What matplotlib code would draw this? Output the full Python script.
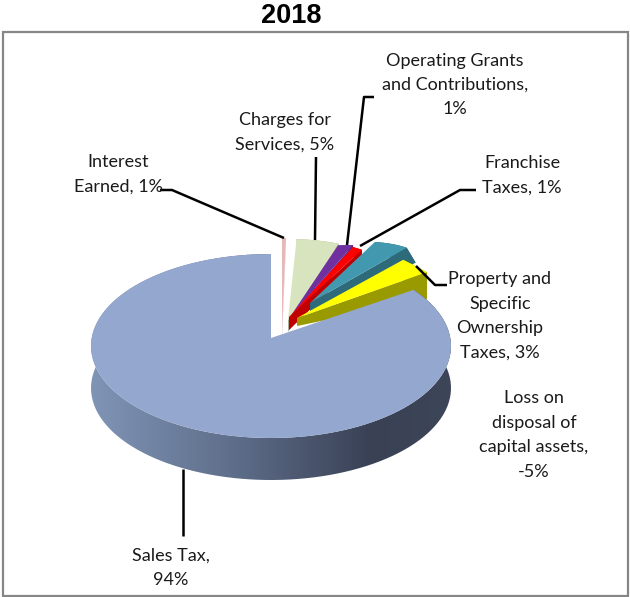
import numpy as np
import matplotlib
matplotlib.use("Agg")
import matplotlib.pyplot as plt
from matplotlib.colors import LinearSegmentedColormap
from matplotlib.patches import Polygon

# chart data, clockwise from 12 o'clock. Excel draws the negative slice by its size
slice_names = ["Interest Earned", "Charges for Services", "Operating Grants and Contributions",
               "Franchise Taxes", "Loss on disposal of capital assets",
               "Property and Specific Ownership Taxes", "Sales Tax"]
slice_values = [1, 5, 1, 1, -5, 3, 94]
title = "2018"

# label text, one per slice, same order
slice_labels = ["Interest\nEarned, 1%", "Charges for\nServices, 5%", "Operating Grants\nand Contributions,\n1%",
                "Franchise\nTaxes, 1%", "Loss on\ndisposal of\ncapital assets,\n-5%",
                "Property and\nSpecific\nOwnership\nTaxes, 3%", "Sales Tax,\n94%"]

# look of the slices (pixels): apex x/y, radius x/y at start and end of the arc, depth at apex and rim
top_colors = ["#e6b9b8", "#d7e4bd", "#7030a0", "#ff0000", "#4198af", "#ffff00", "#94a7cf"]
side_colors = ["#c9a09f", "#a8b096", "#5a2a80", "#c00000", "#2d6a7a", "#999900", "#5a6a85"]
apex_xy = [(282, 333), (288, 320), (290, 317), (289, 317), (310, 303), (297, 318), (271, 346)]
radius_x = [(70, 70), (150, 150), (143, 162), (164, 165), (147, 143), (157, 164), (180, 180)]
radius_y = [(95, 95), (81, 81), (76, 78), (76, 75), (68, 75), (79, 75), (92, 92)]
depths = [(4, 4), (12, 6), (12, 6), (13, 10), (10, 15), (8, 27), (42, 42)]
rim_shift = [0, 0, 0, 0, 9, 0, 0]

label_pos = [(118, 174), (285, 132), (455, 85), (522, 175), (534, 435), (500, 316), (171, 568)]
leaders = [[(160, 190), (172, 190), (284, 238)], [(316, 157), (315, 240)],
           [(374, 97), (364, 97), (347, 245)], [(476, 190), (460, 190), (360, 246)],
           [(447, 285), (435, 285), (416, 266)], [(183, 469), (183, 536)]]

fig = plt.figure(figsize=(6.3, 5.97), dpi=100)
ax = fig.add_axes([0, 0, 1, 1])
ax.set_xlim(0, 630)
ax.set_ylim(597, 0)
ax.axis("off")


def rim(i, a0, a1):
    t = np.radians(np.linspace(a0, a1, 120))
    rx = np.linspace(radius_x[i][0], radius_x[i][1], 120)
    ry = np.linspace(radius_y[i][0], radius_y[i][1], 120)
    x = apex_xy[i][0] + rx * np.sin(t)
    y = apex_xy[i][1] - ry * np.cos(t)
    return np.column_stack([x, y])


sizes = np.abs(slice_values)
edges = np.concatenate([[0], np.cumsum(sizes) / sizes.sum() * 360])

# small slices, back to front
for i in range(len(slice_values) - 1):
    arc = rim(i, edges[i], edges[i + 1])
    apex = np.array(apex_xy[i], dtype=float)
    d0, d1 = depths[i]
    arc_low = arc + [rim_shift[i], d1]
    cut = [apex, arc[-1], arc_low[-1], apex + [0, d0]]
    ax.add_patch(Polygon(cut, closed=True, fc=side_colors[i], ec="none", zorder=2 + i))
    outer = np.vstack([arc, arc_low[::-1]])
    ax.add_patch(Polygon(outer, closed=True, fc=side_colors[i], ec="none", zorder=2 + i))
    ax.add_patch(Polygon(np.vstack([apex, arc]), closed=True, fc=top_colors[i], ec="none", zorder=2 + i))

# sales tax slice: pinched apex, gradient on the front wall
arc = rim(6, edges[6], edges[7])
wall = np.vstack([arc, (arc + [0, depths[6][1]])[::-1]])
wall_patch = Polygon(wall, closed=True, fc="none", ec="none", zorder=10)
ax.add_patch(wall_patch)
wall_cmap = LinearSegmentedColormap.from_list("wall", ["#8094b6", "#5f6f8b", "#3a4155", "#3d4558"])
gradient = np.interp(np.linspace(0, 1, 256), [0, 0.78, 1], [0, 0.67, 1]).reshape(1, -1)
img = ax.imshow(gradient, cmap=wall_cmap, extent=(91, 451, 597, 0), aspect="auto", zorder=10)
img.set_clip_path(wall_patch)
ax.set_xlim(0, 630)
ax.set_ylim(597, 0)
top = np.vstack([[apex_xy[6][0], 338], arc])
ax.add_patch(Polygon(top, closed=True, fc=top_colors[6], ec="none", zorder=11))

# chart frame and title
ax.add_patch(plt.Rectangle((3, 32), 625, 564, fc="none", ec="#868686", lw=1.6, zorder=1))
ax.text(291, 16, title, ha="center", va="center", fontsize=19.5, fontweight="bold",
        family="Liberation Sans", color="black")

for line in leaders:
    pts = np.array(line)
    ax.plot(pts[:, 0], pts[:, 1], color="black", lw=1.8, zorder=20, solid_capstyle="butt")

for text, (x, y) in zip(slice_labels, label_pos):
    ax.text(x, y, text, ha="center", va="center", fontsize=13, family="Lato",
            color="#1a1a1a", linespacing=1.65, zorder=21)

fig.savefig("out.png", dpi=100)
